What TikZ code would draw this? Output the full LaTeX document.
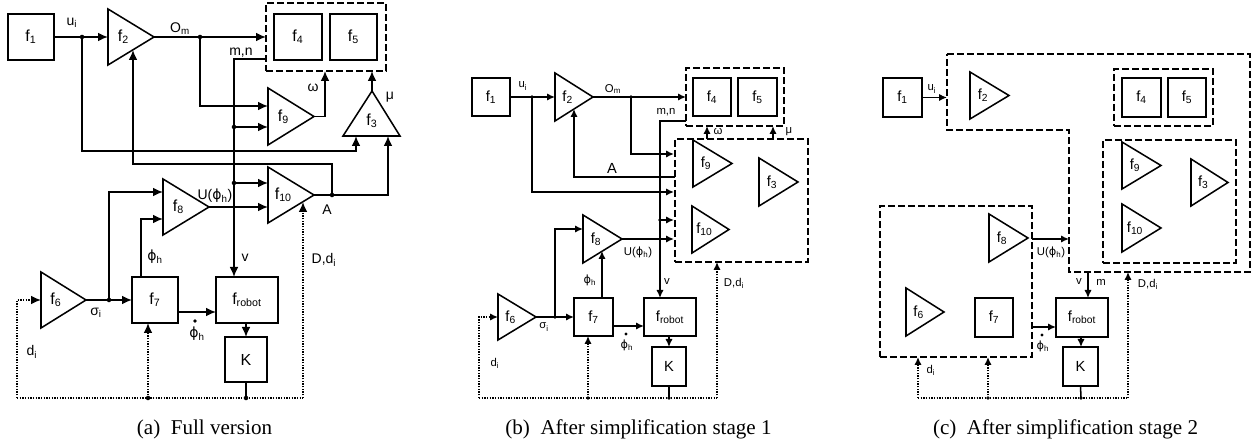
\documentclass[tikz,border=0pt]{standalone}
\usepackage{fontspec}
\setmainfont{Liberation Sans}
\newfontfamily\capfont{Liberation Serif}
\newfontfamily\phifont{DejaVu Sans}
\usetikzlibrary{arrows.meta}
\newcommand\ph{{\phifont ϕ}}
\newcommand\mkbox[7]{\node[#6, minimum width={(#4-#2)*0.75pt}, minimum height={(#5-#3)*0.75pt}] (#1) at ({(#2+#4)/2},{(#3+#5)/2}) {#7};}
\newcommand\mktri[7]{%
 \draw[ln] (#2,#4) -- (#2,#5) -- (#3,{(#4+#5)/2}) -- cycle;
 \coordinate (#1-w) at (#2,{(#4+#5)/2});
 \coordinate (#1-tip) at (#3,{(#4+#5)/2});
 \node[#6] (#1) at ({#2+(#3-#2)/3},{(#4+#5)/2}) {#7};}
\tikzset{
 ln/.style={line width=1.15pt},
 arA/.style={line width=1.15pt,-{Latex[length=7.5pt,width=6.5pt]}},
 arB/.style={line width=1.15pt,-{Latex[length=6pt,width=5.5pt]}},
 dotl/.style={line width=1.1pt,dash pattern=on 1pt off 1pt},
 dotA/.style={dotl,-{Latex[length=7.5pt,width=6.5pt]}},
 dotB/.style={dotl,-{Latex[length=6pt,width=5.5pt]}},
 dsh/.style={line width=1.2pt,dash pattern=on 5pt off 2.5pt},
 dshb/.style={draw,dsh,inner sep=0pt,outer sep=0pt},
 bxA/.style={draw,line width=1.15pt,inner sep=0pt,outer sep=0pt,font=\fontsize{12}{12}\selectfont},
 bxB/.style={draw,line width=1.15pt,inner sep=0pt,outer sep=0pt,font=\fontsize{11}{11}\selectfont},
 tA/.style={inner sep=0pt,font=\fontsize{12}{12}\selectfont},
 tB/.style={inner sep=0pt,font=\fontsize{11}{11}\selectfont},
 eA/.style={inner sep=0pt,font=\fontsize{10.5}{11}\selectfont},
 eB/.style={inner sep=0pt,font=\fontsize{8.5}{9}\selectfont},
 captext/.style={inner sep=0pt,font=\capfont\fontsize{15.8}{17}\selectfont},
 jn/.style={circle,fill,inner sep=0pt,minimum size=3.4pt},
 jnd/.style={circle,fill,inner sep=0pt,minimum size=2.8pt}
}
\begin{document}
\begin{tikzpicture}[x=0.75pt,y=-0.75pt]
\useasboundingbox (0,0) rectangle (1258,445);
% ================= panel (a) =================
\mkbox{a1}{8}{14}{54}{60}{bxA}{f\textsubscript{1}}
\mktri{a2}{108}{154}{9}{65}{tA}{f\textsubscript{2}}
\mkbox{a45}{266}{3}{386}{71}{dshb}{}
\mkbox{a4}{274}{14}{322}{60}{bxA}{f\textsubscript{4}}
\mkbox{a5}{330}{14}{377}{60}{bxA}{f\textsubscript{5}}
\mktri{a9}{268}{314}{88}{145}{tA}{f\textsubscript{9}}
\mktri{a10}{268}{314}{167}{223}{tA}{f\textsubscript{10}}
\mktri{a8}{163}{209}{179}{235}{tA}{f\textsubscript{8}}
\mktri{a6}{41}{86}{272}{328}{tA}{f\textsubscript{6}}
\draw[ln] (343,136) -- (400,136) -- (372,91) -- cycle;
\node[tA] (a3) at (372,121) {f\textsubscript{3}};
\coordinate (a3-top) at (372,91);
\mkbox{a7}{132}{277}{178}{323}{bxA}{f\textsubscript{7}}
\mkbox{ar}{216}{277}{278}{323}{bxA}{f\textsubscript{robot}}
\mkbox{aK}{225}{337}{267}{382}{bxA}{K}
% junctions
\node[jn] (ja1) at (82,37) {};
\node[jn] (ja2) at (200,37) {};
\node[jn] (ja3) at (234,127) {};
\node[jn] (ja4) at (234,183) {};
\node[jn] (jaA) at (332,195) {};
\node[jn] (jas) at (109,300) {};
\node[jn] (jad1) at (148,398) {};
\node[jn] (jad2) at (246,398) {};
\coordinate (amn) at (266,59);
\coordinate (arv) at (234,277);
\coordinate (a9i1) at (268,106);
\coordinate (a45w) at (325,71);
\coordinate (a3i1) at (356,136);
\coordinate (a3i2) at (388,136);
\coordinate (a2i2) at (133,50);
\coordinate (a10i3) at (303,202);
\coordinate (a8i1) at (163,192);
\coordinate (a8i2) at (163,219);
\coordinate (a7top) at (141,277);
\coordinate (a7o) at (178,312);
\coordinate (adl) at (17,398);
\coordinate (adr) at (303,398);
% connectors
\draw[arA] (a1.east) -- (a2-w);
\draw[arA] (a2-tip) -- (a45.west);
\draw[arA] (amn) -| (arv);
\draw[arA] (ja2.center) |- (a9i1);
\draw[arA] (ja3.center) -- (ja3.center -| a9-w);
\draw[arA] (ja4.center) -- (ja4.center -| a10-w);
\draw[arA] (a8-tip) -- (a8-tip -| a10-w);
\draw[arA] (a9-tip) -| (a45w);
\draw[arA] (a3-top) -- (a3-top |- a45.south);
\draw[arA] (ja1.center) |- (82,151) -| (a3i1);
\draw[arA] (a10-tip) -| (a3i2);
\draw[arA] (jaA.center) -- (332,164) -| (a2i2);
\draw[arA] (jas.center) |- (a8i1);
\draw[arA] (a7top) |- (a8i2);
\draw[arA] (a6-tip) -- (a7.west);
\draw[arA] (a7o) -- (a7o -| ar.west);
\draw[arA] (aK.north |- ar.south) -- (aK.north);
\draw[ln] (aK.south) -- (jad2.center);
\draw[dotl] (adl) -- (adr);
\draw[dotA] (adl) |- (a6-w);
\draw[dotA] (jad1.center) -- (jad1.center |- a7.south);
\draw[dotA] (adr) -- (a10i3);
% labels
\node[eA] (la-ui) at (72,23) {u\textsubscript{i}};
\node[eA] (la-om) at (180,29) {O\textsubscript{m}};
\node[eA] (la-mn) at (241,53) {m,n};
\node[eA] (la-w) at (313,88) {ω};
\node[eA] (la-mu) at (390,97) {μ};
\node[eA] (la-A) at (327,210) {A};
\node[eA] (la-U) at (215,196) {U(\ph\textsubscript{h})};
\node[eA] (la-v) at (245,258) {v};
\node[eA] (la-D) at (324,260) {D,d\textsubscript{i}};
\node[eA] (la-ph) at (155,257) {\ph\textsubscript{h}};
\node[eA] (la-s) at (96,313) {σ\textsubscript{i}};
\node[eA] (la-pd) at (197,334) {\ph\textsubscript{h}};
\fill (195,321) circle (1.4pt);
\node[eA] (la-d) at (32,352) {d\textsubscript{i}};
\node[captext] (capa) at (204.5,429) {(a)\enspace Full version};
% ================= panel (b) =================
\mkbox{b1}{472}{78}{510}{116}{bxB}{f\textsubscript{1}}
\mktri{b2}{555}{593}{73}{121}{tB}{f\textsubscript{2}}
\mkbox{b45}{686}{68}{784}{126}{dshb}{}
\mkbox{b4}{693}{78}{731}{116}{bxB}{f\textsubscript{4}}
\mkbox{b5}{738}{78}{777}{116}{bxB}{f\textsubscript{5}}
\mkbox{bbig}{675}{139}{808}{262}{dshb}{}
\mktri{b9}{693}{732}{140}{187}{tB}{f\textsubscript{9}}
\mktri{b3}{759}{798}{158}{206}{tB}{f\textsubscript{3}}
\mktri{b10}{692}{729}{206}{253}{tB}{f\textsubscript{10}}
\mktri{b8}{583}{622}{215}{263}{tB}{f\textsubscript{8}}
\mktri{b6}{498}{536}{294}{340}{tB}{f\textsubscript{6}}
\mkbox{b7}{574}{298}{613}{336}{bxB}{f\textsubscript{7}}
\mkbox{br}{644}{298}{696}{336}{bxB}{f\textsubscript{robot}}
\mkbox{bK}{652}{347}{686}{386}{bxB}{K}
\node[jnd] (jb1) at (532,97) {};
\node[jnd] (jb2) at (631,97) {};
\node[jnd] (jb3) at (660,220) {};
\node[jnd] (jbs) at (555,317) {};
\node[jnd] (jbd1) at (588,398) {};
\node[jnd] (jbd2) at (669,398) {};
\coordinate (bmn) at (686,121);
\coordinate (brv) at (660,298);
\coordinate (bw1) at (707,139);
\coordinate (bw2) at (773,139);
\coordinate (bi1) at (674,154);
\coordinate (bAo) at (675,177);
\coordinate (b2i2) at (574,109);
\coordinate (bi2) at (674,192);
\coordinate (bi3) at (674,220);
\coordinate (bi4) at (674,239);
\coordinate (b8i1) at (583,229);
\coordinate (b7top) at (602,298);
\coordinate (b8i2) at (602,251);
\coordinate (b7o) at (613,326);
\coordinate (bdl) at (479,398);
\coordinate (bdr) at (717,398);
\draw[arB] (b1.east) -- (b2-w);
\draw[arB] (b2-tip) -- (b45.west);
\draw[arB] (bmn) -| (brv);
\draw[arB] (bw1) -- (bw1 |- b45.south);
\draw[arB] (bw2) -- (bw2 |- b45.south);
\draw[arB] (jb2.center) |- (bi1);
\draw[arB] (bAo) -| (b2i2);
\draw[arB] (jb1.center) |- (bi2);
\draw[arB] (jb3.center) -- (bi3);
\draw[arB] (b8-tip) -- (bi4);
\draw[arB] (jbs.center) |- (b8i1);
\draw[arB] (b7top) -- (b8i2);
\draw[arB] (b6-tip) -- (b7.west);
\draw[arB] (b7o) -- (b7o -| br.west);
\draw[arB] (jbd2.center |- br.south) -- (jbd2.center |- bK.north);
\draw[ln] (jbd2.center |- bK.south) -- (jbd2.center);
\draw[dotl] (bdl) -- (bdr);
\draw[dotB] (bdl) |- (b6-w);
\draw[dotB] (jbd1.center) -- (jbd1.center |- b7.south);
\draw[dotB] (bdr) -- (bdr |- bbig.south);
\node[eB] (lb-ui) at (523,86) {u\textsubscript{i}};
\node[eB] (lb-om) at (613,89) {O\textsubscript{m}};
\node[eB] (lb-mn) at (666,112) {m,n};
\node[eB] (lb-w) at (718,132) {ω};
\node[eB] (lb-mu) at (789,132) {μ};
\node[eB] (lb-A) at (612,168) {\fontsize{11}{11}\selectfont A};
\node[eB] (lb-U) at (638,252) {U(\ph\textsubscript{h})};
\node[eB] (lb-ph) at (590,280) {\ph\textsubscript{h}};
\node[eB] (lb-v) at (667,282) {v};
\node[eB] (lb-D) at (734,283) {D,d\textsubscript{i}};
\node[eB] (lb-s) at (544,327) {σ\textsubscript{i}};
\node[eB] (lb-pd) at (627,345) {\ph\textsubscript{h}};
\fill (626,334) circle (1.2pt);
\node[eB] (lb-d) at (495,363) {d\textsubscript{i}};
\node[captext] (capb) at (638.5,429) {(b)\enspace After simplification stage 1};
% ================= panel (c) =================
\mkbox{c1}{883}{78}{922}{117}{bxB}{f\textsubscript{1}}
\draw[dsh] (947,54) -- (1250,54) -- (1250,272) -- (1069,272) -- (1069,130) -- (947,130) -- cycle;
\mktri{c2}{970}{1009}{72}{119}{tB}{f\textsubscript{2}}
\mkbox{c45}{1114}{69}{1213}{126}{dshb}{}
\mkbox{c4}{1122}{78}{1161}{117}{bxB}{f\textsubscript{4}}
\mkbox{c5}{1168}{78}{1206}{117}{bxB}{f\textsubscript{5}}
\mkbox{cin}{1103}{140}{1236}{263}{dshb}{}
\mktri{c9}{1122}{1161}{142}{189}{tB}{f\textsubscript{9}}
\mktri{c3}{1191}{1228}{159}{206}{tB}{f\textsubscript{3}}
\mktri{c10}{1122}{1161}{204}{252}{tB}{f\textsubscript{10}}
\mkbox{cll}{880}{206}{1032}{357}{dshb}{}
\mktri{c8}{989}{1028}{214}{262}{tB}{f\textsubscript{8}}
\mktri{c6}{906}{944}{288}{336}{tB}{f\textsubscript{6}}
\mkbox{c7}{975}{298}{1013}{337}{bxB}{f\textsubscript{7}}
\mkbox{cr}{1056}{298}{1108}{337}{bxB}{f\textsubscript{robot}}
\mkbox{cK}{1063}{347}{1098}{386}{bxB}{K}
\node[jnd] (jcd1) at (988,398) {};
\node[jnd] (jcd2) at (1081,398) {};
\coordinate (cin1) at (947,97.5);
\coordinate (cUo) at (1032,239);
\coordinate (cUi) at (1069,239);
\coordinate (cpo) at (1032,327);
\coordinate (cvo) at (1088,272);
\coordinate (cdl) at (918,398);
\coordinate (cdr) at (1128,398);
\coordinate (cdrt) at (1128,272);
\draw[arB] (c1.east) -- (cin1);
\draw[arB] (cUo) -- (cUi);
\draw[arB] (cpo) -- (cpo -| cr.west);
\draw[arB] (cvo) -- (cvo |- cr.north);
\draw[arB] (jcd2.center |- cr.south) -- (jcd2.center |- cK.north);
\draw[ln] (cK.south) -- (jcd2.center);
\draw[dotl] (cdl) -- (cdr);
\draw[dotB] (cdl) -- (cdl |- cll.south);
\draw[dotB] (jcd1.center) -- (jcd1.center |- cll.south);
\draw[dotB] (cdr) -- (cdrt);
\node[eB] (lc-ui) at (932,89) {u\textsubscript{i}};
\node[eB] (lc-U) at (1051,252) {U(\ph\textsubscript{h})};
\node[eB] (lc-pd) at (1043,346) {\ph\textsubscript{h}};
\fill (1042,335) circle (1.2pt);
\node[eB] (lc-v) at (1079,282) {v};
\node[eB] (lc-m) at (1101,282) {m};
\node[eB] (lc-d) at (931,370) {d\textsubscript{i}};
\node[eB] (lc-D) at (1148,284) {D,d\textsubscript{i}};
\node[captext] (capc) at (1065.5,429) {(c)\enspace After simplification stage 2};
\end{tikzpicture}
\end{document}
